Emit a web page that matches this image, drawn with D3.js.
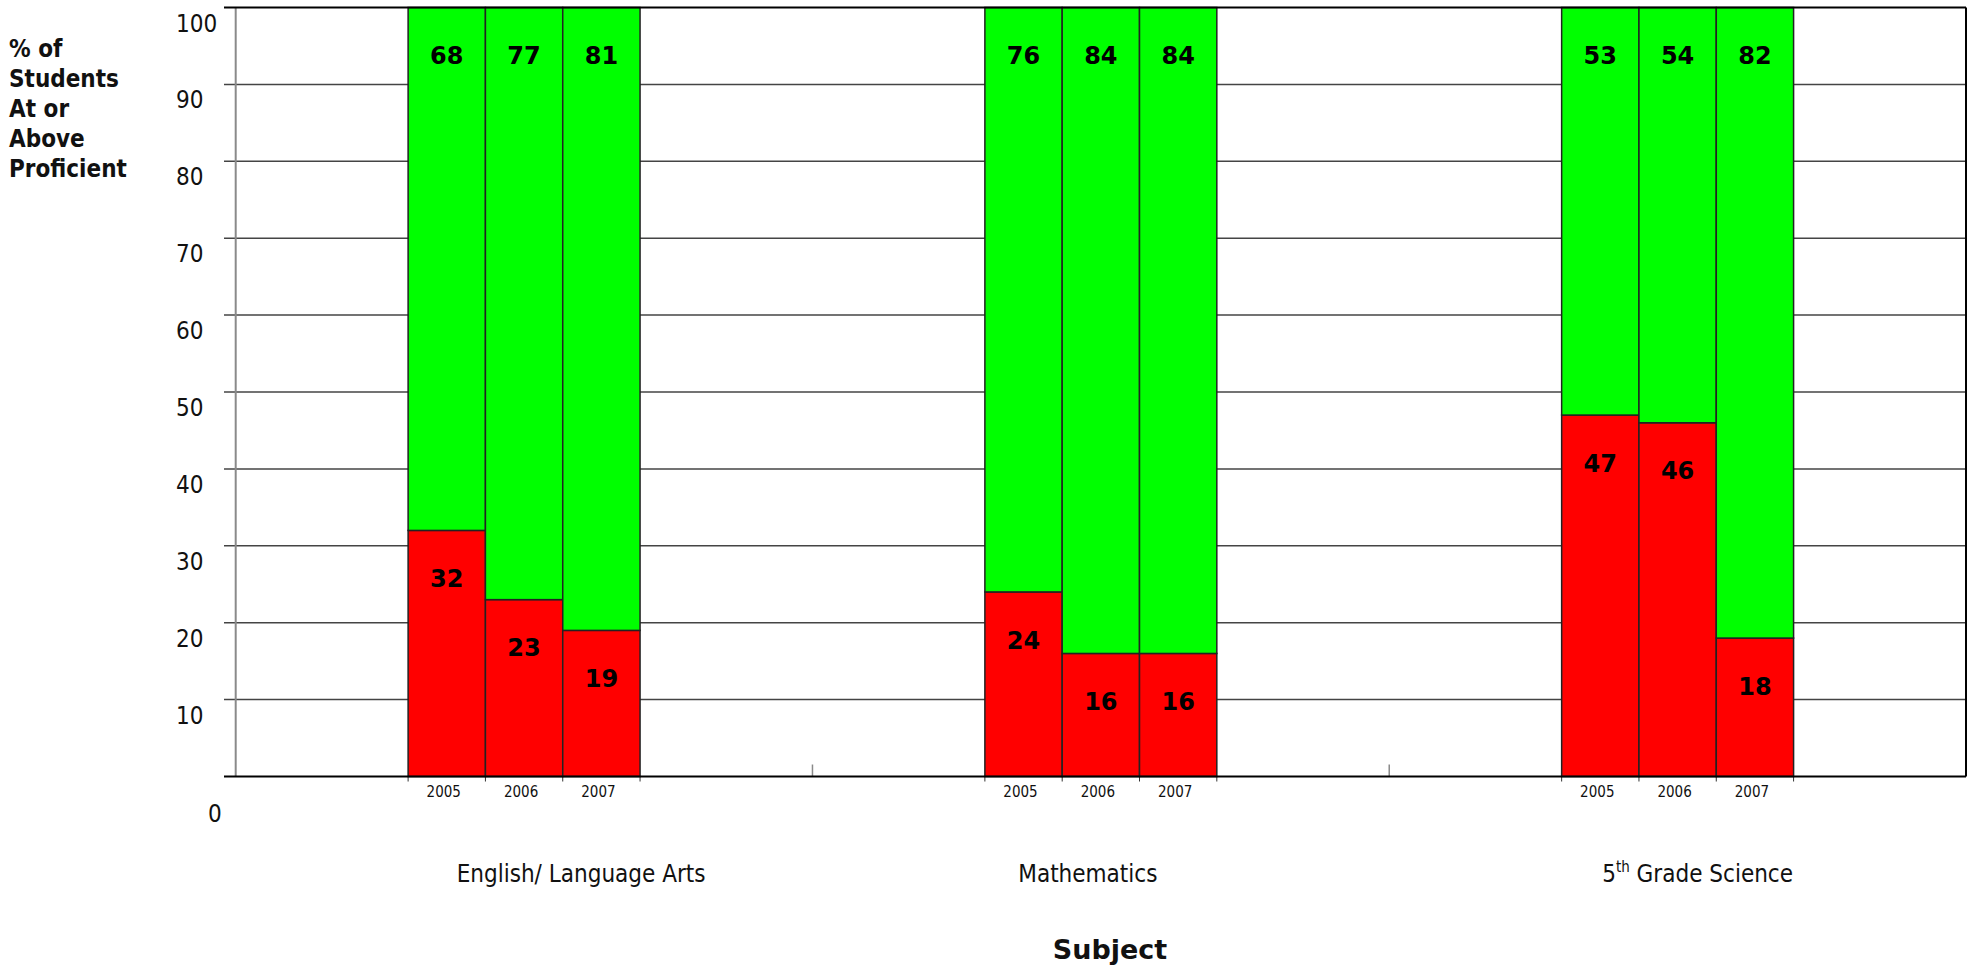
<!DOCTYPE html>
<html>
<head>
<meta charset="utf-8">
<script src="https://cdn.jsdelivr.net/npm/d3@7"></script>
<style>
  html, body { margin: 0; padding: 0; background: #fff; }
  svg { display: block; }
</style>
</head>
<body>
<svg id="chart" width="1970" height="967"></svg>
<script>
// Subjects and test years
const subjects = ["English/ Language Arts", "Mathematics", "5th Grade Science"];
const years = ["2005", "2006", "2007"];

// % of students below proficient (red) and at or above proficient (green)
const belowProficient = [
  [32, 23, 19],
  [24, 16, 16],
  [47, 46, 18]
];
const atOrAboveProficient = [
  [68, 77, 81],
  [76, 84, 84],
  [53, 54, 82]
];

// Y-axis tick labels
const yTicks = [0, 10, 20, 30, 40, 50, 60, 70, 80, 90, 100];

// Layout
const W = 1970, H = 967;
const plot = { left: 235.7, right: 1966, top: 7.5, bottom: 776.5 };
const subjectLabelNudge = [57, -13, 20];
const RED = "#ff0000", GREEN = "#00ff00";
const FONT = "'DejaVu Sans Condensed', 'DejaVu Sans', sans-serif";
const FONT_WIDE = "'DejaVu Sans', sans-serif";

const svg = d3.select("#chart");

const y = d3.scaleLinear().domain([0, 100]).range([plot.bottom, plot.top]);
const x0 = d3.scaleBand().domain(subjects).range([plot.left, plot.right]).paddingInner(0).paddingOuter(0);
const x1 = d3.scaleBand().domain(years).range([0, x0.bandwidth()]).paddingInner(0).paddingOuter(2.23);

// Horizontal gridlines (behind the bars)
svg.append("g").selectAll("line")
  .data(yTicks.filter(t => t > 0 && t < 100))
  .join("line")
  .attr("x1", plot.left - 11.7).attr("x2", plot.right)
  .attr("y1", d => y(d)).attr("y2", d => y(d))
  .attr("stroke", "#444").attr("stroke-width", 1.5);

// Vertical y-axis line
svg.append("line")
  .attr("x1", plot.left).attr("x2", plot.left)
  .attr("y1", y(100)).attr("y2", y(0))
  .attr("stroke", "#8a8a8a").attr("stroke-width", 2);

// Group separator ticks on the category axis
svg.append("g").selectAll("line")
  .data(subjects.slice(1))
  .join("line")
  .attr("x1", d => x0(d)).attr("x2", d => x0(d))
  .attr("y1", y(0) - 12).attr("y2", y(0))
  .attr("stroke", "#8a8a8a").attr("stroke-width", 1.5);

// Stacked bars
const groups = svg.append("g").selectAll("g")
  .data(subjects)
  .join("g")
  .attr("transform", d => `translate(${x0(d)},0)`);

groups.each(function (subject, si) {
  const g = d3.select(this);
  const rows = years.map((yr, yi) => ({
    year: yr,
    below: belowProficient[si][yi],
    above: atOrAboveProficient[si][yi]
  }));

  // small ticks under the bar edges
  const edges = years.map(yr => x1(yr)).concat([x1(years[years.length - 1]) + x1.bandwidth()]);
  g.selectAll("line.edge").data(edges).join("line")
    .attr("class", "edge")
    .attr("x1", d => d).attr("x2", d => d)
    .attr("y1", y(0)).attr("y2", y(0) + 5)
    .attr("stroke", "#333").attr("stroke-width", 1);

  // red segment: below proficient
  g.selectAll("rect.below").data(rows).join("rect")
    .attr("class", "below")
    .attr("x", d => x1(d.year)).attr("width", x1.bandwidth())
    .attr("y", d => y(d.below)).attr("height", d => y(0) - y(d.below))
    .attr("fill", RED).attr("stroke", "#222").attr("stroke-width", 1.5);

  // green segment: at or above proficient
  g.selectAll("rect.above").data(rows).join("rect")
    .attr("class", "above")
    .attr("x", d => x1(d.year)).attr("width", x1.bandwidth())
    .attr("y", d => y(d.below + d.above)).attr("height", d => y(d.below) - y(d.below + d.above))
    .attr("fill", GREEN).attr("stroke", "#222").attr("stroke-width", 1.5);

  // value labels near the top of each segment
  g.selectAll("text.lblBelow").data(rows).join("text")
    .attr("class", "lblBelow")
    .attr("x", d => x1(d.year) + x1.bandwidth() / 2)
    .attr("y", d => y(d.below) + 56.7)
    .attr("text-anchor", "middle")
    .attr("font-family", FONT_WIDE).attr("font-weight", "bold").attr("font-size", 24)
    .attr("fill", "#000")
    .text(d => d.below);

  g.selectAll("text.lblAbove").data(rows).join("text")
    .attr("class", "lblAbove")
    .attr("x", d => x1(d.year) + x1.bandwidth() / 2)
    .attr("y", d => y(d.below + d.above) + 56.7)
    .attr("text-anchor", "middle")
    .attr("font-family", FONT_WIDE).attr("font-weight", "bold").attr("font-size", 24)
    .attr("fill", "#000")
    .text(d => d.above);

  // year labels
  g.selectAll("text.year").data(years).join("text")
    .attr("class", "year")
    .attr("x", d => x1(d) + x1.bandwidth() / 2 - 3)
    .attr("y", y(0) + 20.8)
    .attr("text-anchor", "middle")
    .attr("font-family", FONT).attr("font-size", 15)
    .attr("fill", "#111")
    .text(d => d);
});

// Plot frame: top, right, bottom
svg.append("line")
  .attr("x1", plot.left - 11.7).attr("x2", plot.right)
  .attr("y1", y(100)).attr("y2", y(100))
  .attr("stroke", "#000").attr("stroke-width", 2);
svg.append("line")
  .attr("x1", plot.right).attr("x2", plot.right)
  .attr("y1", y(100)).attr("y2", y(0))
  .attr("stroke", "#000").attr("stroke-width", 2);
svg.append("line")
  .attr("x1", plot.left - 11.7).attr("x2", plot.right)
  .attr("y1", y(0)).attr("y2", y(0))
  .attr("stroke", "#000").attr("stroke-width", 2);

// Y tick labels (left aligned, set just below their gridlines)
svg.append("g").selectAll("text")
  .data(yTicks)
  .join("text")
  .attr("x", d => d === 0 ? 208 : 176)
  .attr("y", d => y(d) + (d === 0 ? 45 : 24))
  .attr("font-family", FONT).attr("font-size", 24)
  .attr("fill", "#111")
  .text(d => d);

// Y axis title
const titleLines = ["% of", "Students", "At or", "Above", "Proficient"];
svg.append("text")
  .attr("font-family", FONT).attr("font-weight", "bold").attr("font-size", 24)
  .attr("fill", "#111")
  .selectAll("tspan").data(titleLines).join("tspan")
  .attr("x", 9)
  .attr("y", (d, i) => 56.7 + i * 30)
  .text(d => d);

// Subject labels
const subj = svg.append("g").selectAll("text")
  .data(subjects)
  .join("text")
  .attr("x", (d, i) => x0(d) + x0.bandwidth() / 2 + subjectLabelNudge[i])
  .attr("y", 882)
  .attr("text-anchor", "middle")
  .attr("font-family", FONT).attr("font-size", 24)
  .attr("fill", "#111");

subj.each(function (d) {
  const t = d3.select(this);
  const m = d.match(/^(\d+)(th)(.*)$/);
  if (m) {
    t.append("tspan").text(m[1]);
    t.append("tspan").attr("font-size", 15).attr("dy", -10).text(m[2]);
    t.append("tspan").attr("dy", 10).text(m[3]);
  } else {
    t.text(d);
  }
});

// X axis title
svg.append("text")
  .attr("x", 1110).attr("y", 959)
  .attr("text-anchor", "middle")
  .attr("font-family", FONT_WIDE).attr("font-weight", "bold").attr("font-size", 27)
  .attr("fill", "#111")
  .text("Subject");
</script>
</body>
</html>
